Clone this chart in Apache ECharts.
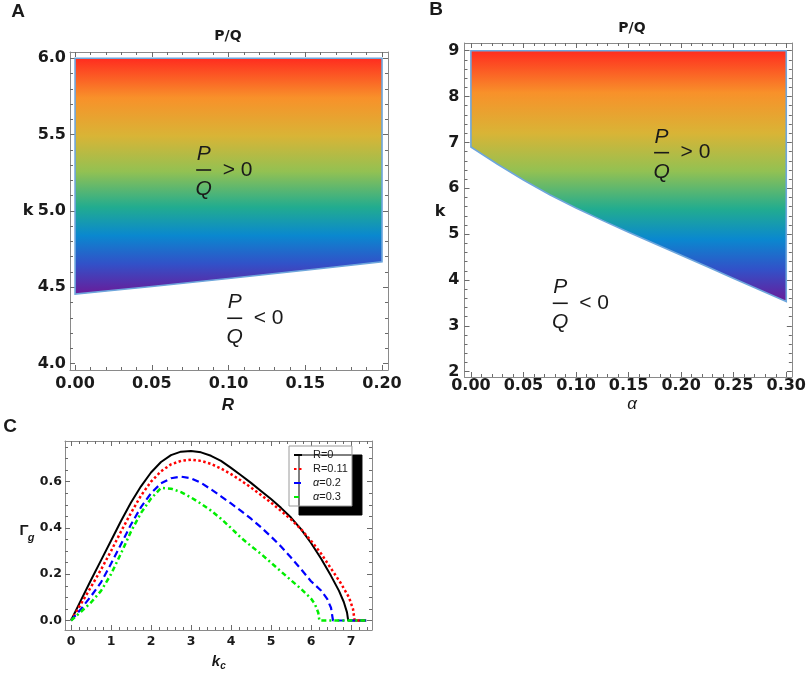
<!DOCTYPE html>
<html>
<head>
<meta charset="UTF-8">
<title>P/Q regions and growth rate</title>
<script src="https://cdn.jsdelivr.net/npm/echarts@6/dist/echarts.min.js"></script>
<style>
  html, body { margin: 0; padding: 0; background: #fff; }
  #main { width: 809px; height: 675px; }
</style>
</head>
<body>
<div id="main"></div>
<script>
// panel A: lower edge of the P/Q > 0 region in the (R, k) plane
var aR = [0, 0.05, 0.10, 0.15, 0.20];
var aKLow = [4.455, 4.505, 4.557, 4.611, 4.667];
var aKTop = 6.0;
var aTicksX = [0, 0.05, 0.10, 0.15, 0.20];
var aTicksY = [4.0, 4.5, 5.0, 5.5, 6.0];

// panel B: lower edge of the P/Q > 0 region in the (alpha, k) plane
var bAlpha = [0, 0.025, 0.05, 0.075, 0.10, 0.125, 0.15, 0.175, 0.20, 0.225, 0.25, 0.275, 0.30];
var bKLow = [6.90, 6.53, 6.18, 5.86, 5.57, 5.30, 5.04, 4.79, 4.54, 4.29, 4.03, 3.78, 3.53];
var bKTop = 9;
var bTicksX = [0, 0.05, 0.10, 0.15, 0.20, 0.25, 0.30];
var bTicksY = [2, 3, 4, 5, 6, 7, 8, 9];

// panel C: growth rate Gamma_g against k_c
var cNames = ['R=0', 'R=0.11', 'α=0.2', 'α=0.3'];
var kcR0 = [0, 0.25, 0.5, 0.75, 1, 1.25, 1.5, 1.75, 2, 2.25, 2.5, 2.75, 3, 3.25, 3.5, 3.75, 4, 4.25, 4.5, 4.75, 5, 5.25, 5.5, 5.75, 6, 6.25, 6.5, 6.7, 6.82, 6.9, 6.93, 7.38];
var gR0 = [0, 0.088, 0.175, 0.26, 0.345, 0.43, 0.51, 0.58, 0.64, 0.685, 0.715, 0.73, 0.733, 0.727, 0.712, 0.69, 0.66, 0.628, 0.595, 0.56, 0.525, 0.487, 0.445, 0.395, 0.335, 0.268, 0.193, 0.128, 0.08, 0.035, 0, 0];
var kcR11 = [0, 0.25, 0.5, 0.75, 1, 1.25, 1.5, 1.75, 2, 2.25, 2.5, 2.75, 3, 3.25, 3.5, 3.75, 4, 4.25, 4.5, 4.75, 5, 5.25, 5.5, 5.75, 6, 6.25, 6.5, 6.75, 6.95, 7.05, 7.09, 7.38];
var gR11 = [0, 0.072, 0.145, 0.22, 0.30, 0.385, 0.465, 0.54, 0.60, 0.645, 0.675, 0.69, 0.695, 0.69, 0.677, 0.657, 0.633, 0.605, 0.575, 0.543, 0.51, 0.474, 0.437, 0.395, 0.345, 0.29, 0.225, 0.16, 0.10, 0.05, 0, 0];
var kcA2 = [0, 0.25, 0.5, 0.75, 1, 1.25, 1.5, 1.75, 2, 2.25, 2.5, 2.75, 3, 3.25, 3.5, 3.75, 4, 4.25, 4.5, 4.75, 5, 5.25, 5.5, 5.75, 6, 6.25, 6.4, 6.5, 6.55, 7.38];
var gA2 = [0, 0.05, 0.105, 0.165, 0.245, 0.33, 0.415, 0.49, 0.55, 0.593, 0.615, 0.622, 0.615, 0.595, 0.567, 0.537, 0.506, 0.474, 0.44, 0.403, 0.363, 0.32, 0.272, 0.222, 0.17, 0.13, 0.095, 0.055, 0, 0];
var kcA3 = [0, 0.25, 0.5, 0.75, 1, 1.25, 1.5, 1.75, 2, 2.25, 2.5, 2.75, 3, 3.25, 3.5, 3.75, 4, 4.25, 4.5, 4.75, 5, 5.25, 5.5, 5.75, 6, 6.1, 6.18, 6.21, 7.38];
var gA3 = [0, 0.038, 0.078, 0.128, 0.20, 0.29, 0.385, 0.465, 0.527, 0.573, 0.57, 0.555, 0.532, 0.505, 0.475, 0.44, 0.40, 0.358, 0.322, 0.288, 0.25, 0.212, 0.174, 0.137, 0.095, 0.07, 0.035, 0, 0];
var cTicksX = [0, 1, 2, 3, 4, 5, 6, 7];
var cTicksY = [0, 0.2, 0.4, 0.6];

var chart = echarts.init(document.getElementById('main'));

var tickFont = '"DejaVu Sans"';
var ink = '#1a1a1a';

// minor ticks between (and just outside) the major ones
function minorsOf(majors, sub, min, max) {
  var step = majors[1] - majors[0], out = [];
  for (var i = -1; i < majors.length; i++) {
    for (var j = 1; j < sub; j++) {
      var m = +(majors[0] + step * i + step * j / sub).toFixed(6);
      if (m > min && m < max) out.push(m);
    }
  }
  return out;
}

function axis(gi, pos, r, major, labels) {
  return {
    type: 'value', gridIndex: gi, position: pos, min: r.min, max: r.max,
    axisLine: { show: major, onZero: false, lineStyle: { color: '#8a8a8a', width: 1 } },
    axisTick: {
      show: true, inside: true, length: major ? 5 : 3,
      customValues: major ? r.majors : minorsOf(r.majors, r.sub, r.min, r.max),
      lineStyle: { color: '#6a6a6a', width: 1 }
    },
    axisLabel: {
      show: labels, customValues: r.majors, margin: r.margin,
      formatter: r.fmt, color: ink, fontFamily: tickFont, fontWeight: 'bold', fontSize: r.fs
    },
    splitLine: { show: false }
  };
}

var xAxes = [], yAxes = [];
function addAxes(gi, xr, yr) {
  xAxes.push(axis(gi, 'bottom', xr, true, true), axis(gi, 'bottom', xr, false, false),
             axis(gi, 'top', xr, true, false), axis(gi, 'top', xr, false, false));
  yAxes.push(axis(gi, 'left', yr, true, true), axis(gi, 'left', yr, false, false),
             axis(gi, 'right', yr, true, false), axis(gi, 'right', yr, false, false));
}

addAxes(0,
  { min: -0.0033, max: 0.2039, majors: aTicksX, sub: 5, margin: 6, fs: 16, fmt: function (v) { return v.toFixed(2); } },
  { min: 3.958, max: 6.041, majors: aTicksY, sub: 5, margin: 4, fs: 16, fmt: function (v) { return v.toFixed(1); } });
addAxes(1,
  { min: -0.0061, max: 0.3053, majors: bTicksX, sub: 5, margin: 1, fs: 16, fmt: function (v) { return v.toFixed(2); } },
  { min: 1.884, max: 9.168, majors: bTicksY, sub: 5, margin: 5, fs: 16, fmt: function (v) { return String(v); } });
addAxes(2,
  { min: -0.15, max: 7.525, majors: cTicksX, sub: 5, margin: 5, fs: 12.5, fmt: function (v) { return String(v); } },
  { min: -0.041, max: 0.776, majors: cTicksY, sub: 4, margin: 3, fs: 12.5, fmt: function (v) { return v.toFixed(1); } });

function rainbow() {
  return new echarts.graphic.LinearGradient(0, 0, 0, 1, [
    { offset: 0, color: '#ff2a1f' },
    { offset: 0.17, color: '#f8912a' },
    { offset: 0.33, color: '#d9b436' },
    { offset: 0.48, color: '#93c152' },
    { offset: 0.63, color: '#22ac8f' },
    { offset: 0.75, color: '#0a88cf' },
    { offset: 0.87, color: '#3251c8' },
    { offset: 1, color: '#6b1a98' }
  ]);
}

// filled P/Q > 0 region: top edge, right edge, lower boundary, left edge
function regionSeries(gi, xs, lows, top) {
  return {
    type: 'custom', xAxisIndex: gi * 4, yAxisIndex: gi * 4, silent: true, clip: false,
    data: [[xs[0], top]],
    renderItem: function (params, api) {
      var pts = [api.coord([xs[0], top]), api.coord([xs[xs.length - 1], top])];
      for (var i = xs.length - 1; i >= 0; i--) pts.push(api.coord([xs[i], lows[i]]));
      return {
        type: 'polygon', shape: { points: pts },
        style: { fill: rainbow(), stroke: '#6ea6dc', lineWidth: 1.6, lineJoin: 'miter' }
      };
    }
  };
}

function pairs(xs, ys) {
  return xs.map(function (x, i) { return [x, ys[i]]; });
}

function curve(name, xs, ys, color, width, dash) {
  return {
    type: 'line', name: name, xAxisIndex: 8, yAxisIndex: 8,
    data: pairs(xs, ys), showSymbol: false, symbol: 'none', animation: false,
    lineStyle: { color: color, width: width, type: dash },
    itemStyle: { color: color }
  };
}

var series = [
  regionSeries(0, aR, aKLow, aKTop),
  regionSeries(1, bAlpha, bKLow, bKTop),
  curve(cNames[0], kcR0, gR0, '#000000', 2, 'solid'),
  curve(cNames[1], kcR11, gR11, '#ff0000', 2.5, [2.5, 2.5]),
  curve(cNames[2], kcA2, gA2, '#0000ff', 2.2, [7, 4]),
  curve(cNames[3], kcA3, gA3, '#00ee00', 2.5, [5, 3, 2, 3])
];

function txt(x, y, s, font, align) {
  return {
    type: 'text', x: x, y: y, z: 100, silent: true,
    style: { text: s, font: font, fill: ink, textAlign: align || 'center', textVerticalAlign: 'middle', verticalAlign: 'middle' }
  };
}

var staticGraphics = [
  txt(18, 12, 'A', 'bold 19px "Liberation Sans"'),
  txt(436, 10, 'B', 'bold 19px "Liberation Sans"'),
  txt(10, 427, 'C', 'bold 19px "Liberation Sans"'),
  txt(228, 36, 'P/Q', 'bold 14px "DejaVu Sans"'),
  txt(632, 28, 'P/Q', 'bold 14px "DejaVu Sans"'),
  txt(28, 211, 'k', 'bold 16px "DejaVu Sans"'),
  txt(440, 212, 'k', 'bold 16px "DejaVu Sans"'),
  txt(228, 405, 'R', 'italic bold 17px "Liberation Sans"'),
  txt(632, 404, 'α', 'italic 17px "Liberation Sans"'),
  txt(24, 531, 'Γ', 'bold 15px "Liberation Sans"'),
  txt(31, 538, 'g', 'italic bold 11px "Liberation Sans"'),
  txt(216, 662, 'k', 'italic bold 15px "Liberation Sans"'),
  txt(223, 666, 'c', 'italic bold 10px "Liberation Sans"')
];

chart.setOption({
  backgroundColor: '#ffffff',
  animation: false,
  grid: [
    { left: 70, top: 52, width: 318, height: 318 },
    { left: 464.5, top: 43, width: 333.5, height: 334 },
    { left: 65, top: 441, width: 307, height: 189 }
  ],
  xAxis: xAxes,
  yAxis: yAxes,
  legend: {
    data: cNames, orient: 'vertical', left: 289, top: 446,
    padding: [3, 4, 3, 4], itemGap: 2, itemWidth: 8, itemHeight: 10,
    selectedMode: false,
    itemStyle: { opacity: 0 },
    backgroundColor: '#ffffff', borderColor: '#9a9a9a', borderWidth: 1,
    shadowColor: '#000000', shadowBlur: 0, shadowOffsetX: 10, shadowOffsetY: 9,
    formatter: function (name) {
      if (name.charAt(0) === 'α') return '{g|α}{t|' + name.slice(1) + '}';
      return '{s|' + name + '}';
    },
    textStyle: {
      color: ink, fontFamily: '"Liberation Sans"', fontSize: 11, lineHeight: 12,
      rich: {
        s: { fontSize: 11, padding: [0, 0, 0, 6] },
        g: { fontSize: 11, fontStyle: 'italic', padding: [0, 0, 0, 6] },
        t: { fontSize: 11 }
      }
    }
  },
  series: series,
  graphic: staticGraphics
});

// P/Q fractions anchored at data positions
function fraction(gi, at, sign) {
  var p = chart.convertToPixel({ xAxisIndex: gi * 4, yAxisIndex: gi * 4 }, at);
  var cx = p[0], cy = p[1];
  return [
    txt(cx, cy - 16, 'P', 'italic 21px "Liberation Sans"'),
    { type: 'line', z: 100, silent: true, shape: { x1: cx - 7.5, y1: cy, x2: cx + 7.5, y2: cy }, style: { stroke: ink, lineWidth: 1.6 } },
    txt(cx, cy + 19, 'Q', 'italic 21px "Liberation Sans"'),
    txt(cx + 19, cy, sign + ' 0', '21px "Liberation Sans"', 'left')
  ];
}

chart.setOption({
  graphic: staticGraphics
    .concat(fraction(0, [0.0838, 5.268], '>'))
    .concat(fraction(0, [0.104, 4.297], '<'))
    .concat(fraction(1, [0.1814, 6.776], '>'))
    .concat(fraction(1, [0.085, 3.492], '<'))
});
</script>
</body>
</html>
